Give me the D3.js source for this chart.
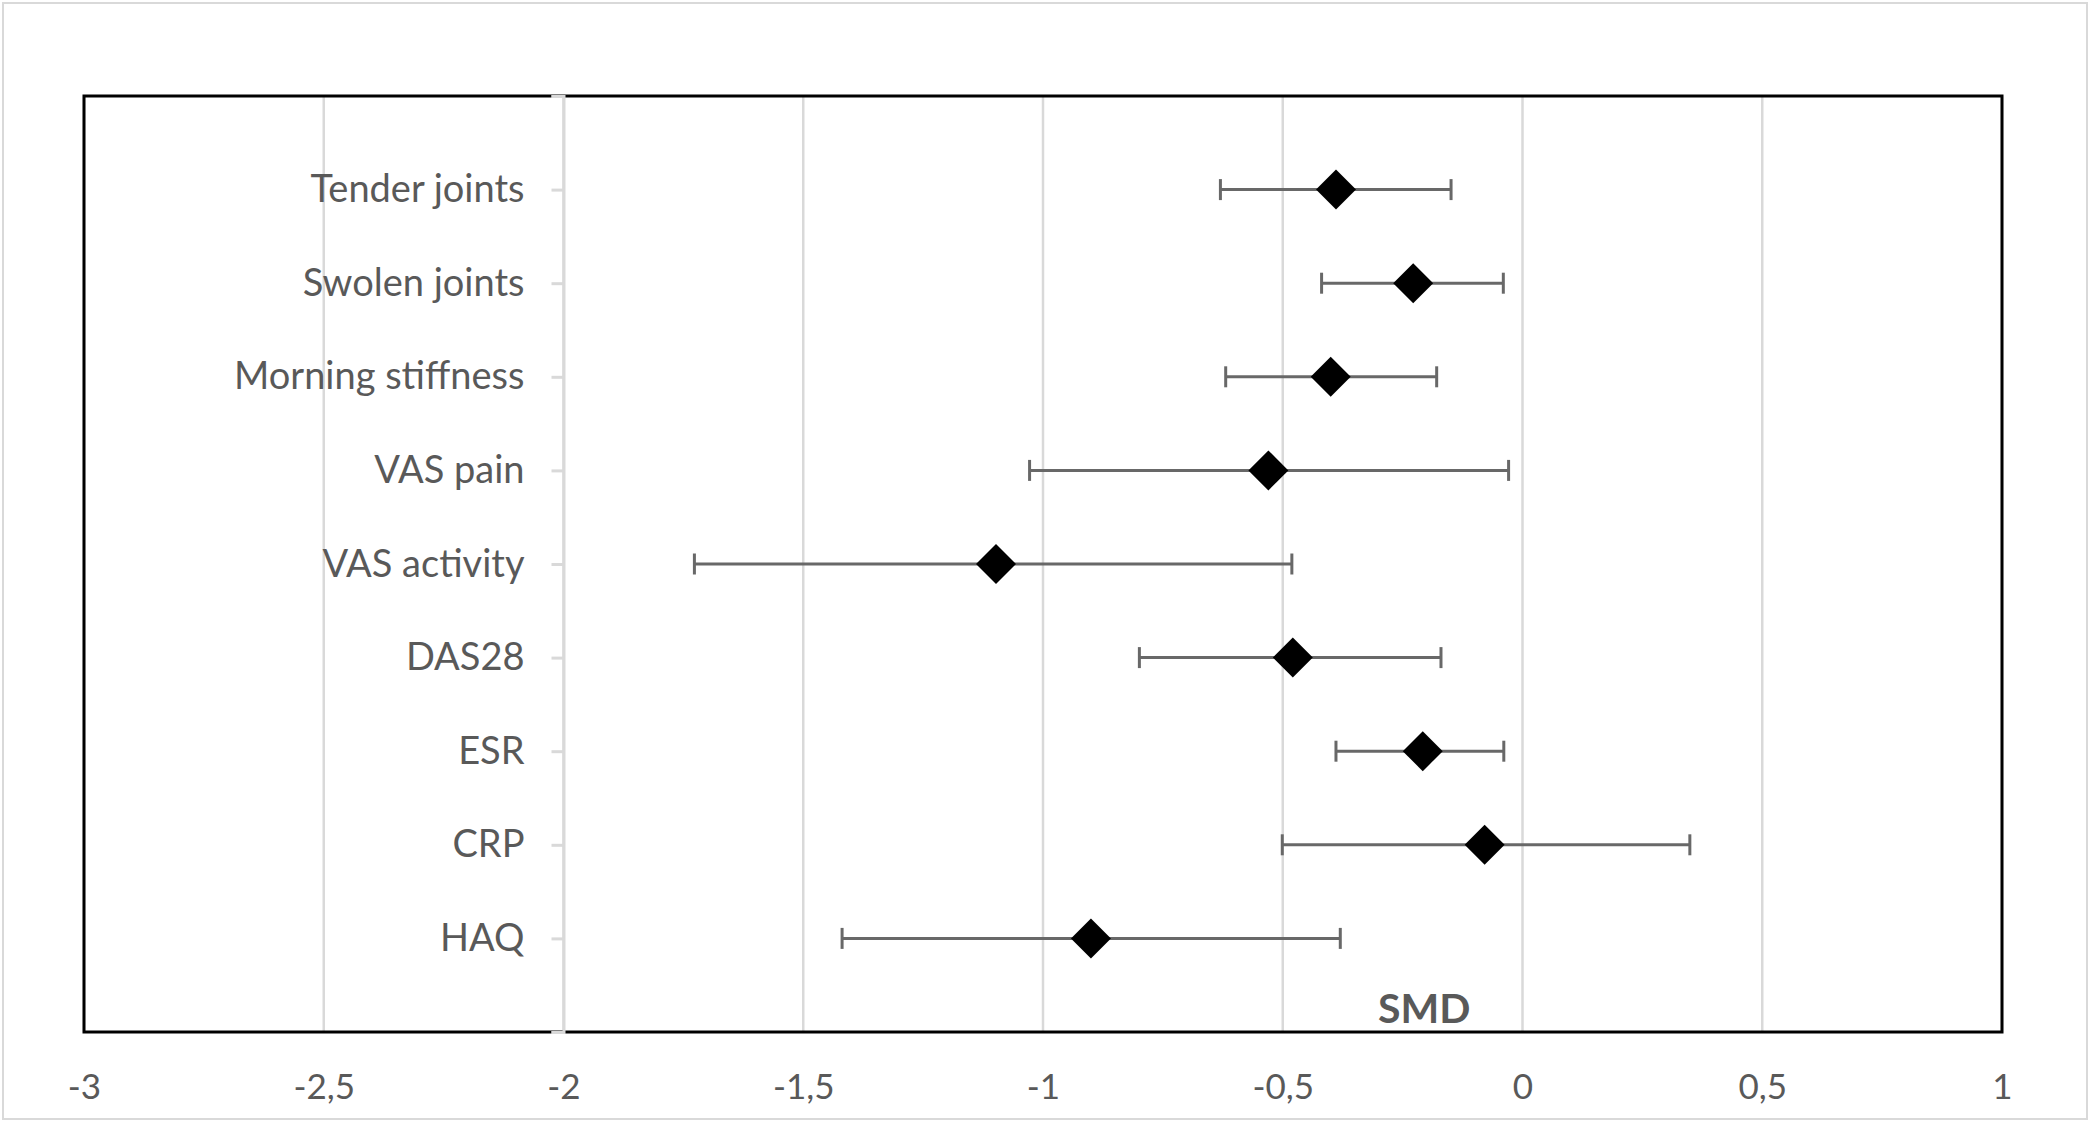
<!DOCTYPE html>
<html>
<head>
<meta charset="utf-8">
<script src="https://cdn.jsdelivr.net/npm/d3@7"></script>
<style>
  html, body { margin: 0; padding: 0; background: #fff; }
  svg { display: block; }
</style>
</head>
<body>
<svg id="chart" width="2090" height="1122"></svg>
<script>
const categories = ["Tender joints","Swolen joints","Morning stiffness","VAS pain","VAS activity","DAS28","ESR","CRP","HAQ"];
const smd   = [-0.389, -0.228, -0.400, -0.530, -1.098, -0.479, -0.208, -0.079, -0.900];
const lower = [-0.630, -0.419, -0.619, -1.028, -1.727, -0.799, -0.389, -0.501, -1.419];
const upper = [-0.149, -0.040, -0.179, -0.029, -0.481, -0.170, -0.039,  0.349, -0.380];
const xTicks = [-3, -2.5, -2, -1.5, -1, -0.5, 0, 0.5, 1];
const xTickLabels = ["-3","-2,5","-2","-1,5","-1","-0,5","0","0,5","1"];
const xTitle = "SMD";

const W = 2090, H = 1122;
const box = {left: 84, right: 2002, top: 96, bottom: 1032};
const font = "Lato, 'Open Sans', sans-serif";
const textColor = "#595959";

const svg = d3.select("#chart");
svg.append("rect").attr("width", W).attr("height", H).attr("fill", "#fff");
svg.append("rect").attr("x", 3).attr("y", 3).attr("width", W - 6).attr("height", H - 6)
  .attr("fill", "none").attr("stroke", "#d9d9d9").attr("stroke-width", 2);

const x = d3.scaleLinear().domain([-3, 1]).range([box.left, box.right]);
const y = d3.scaleLinear().domain([0, 10]).range([box.bottom, box.top]);
const data = categories.map((c, i) => ({cat: c, pos: 9 - i, v: smd[i], lo: lower[i], hi: upper[i]}));

// gridlines
svg.append("g").selectAll("line").data(xTicks).join("line")
  .attr("x1", d => x(d)).attr("x2", d => x(d))
  .attr("y1", box.top).attr("y2", box.bottom)
  .attr("stroke", "#d9d9d9").attr("stroke-width", 2.5);

// plot border
svg.append("rect").attr("x", box.left).attr("y", box.top)
  .attr("width", box.right - box.left).attr("height", box.bottom - box.top)
  .attr("fill", "none").attr("stroke", "#000").attr("stroke-width", 3);

// y axis at x = -2
const yAxis = d3.axisLeft(y)
  .tickValues(d3.range(0, 11))
  .tickFormat(d => (d >= 1 && d <= 9) ? categories[9 - d] : "")
  .tickSize(12).tickPadding(27);
const ya = svg.append("g").attr("transform", `translate(${x(-2)},0)`).call(yAxis);
ya.select(".domain").attr("stroke", "#d9d9d9").attr("stroke-width", 3);
ya.selectAll(".tick line").attr("stroke", "#d9d9d9").attr("stroke-width", 3);
ya.selectAll(".tick text").attr("fill", textColor).style("font-family", font).style("font-size", "38px");

// x axis labels
const xAxis = d3.axisBottom(x).tickValues(xTicks)
  .tickFormat((d, i) => xTickLabels[i]).tickSize(0);
const xa = svg.append("g").attr("transform", `translate(0,${box.bottom})`).call(xAxis);
xa.select(".domain").remove();
xa.selectAll(".tick text").attr("dy", null).attr("y", 67)
  .attr("fill", textColor).style("font-family", font).style("font-size", "35px");

// axis title
svg.append("text").attr("x", x(-0.205)).attr("y", 1023)
  .attr("text-anchor", "middle").attr("fill", textColor)
  .style("font-family", font).style("font-size", "41px").style("font-weight", "bold")
  .text(xTitle);

// error bars
const eb = svg.append("g").attr("stroke", "#686868").attr("stroke-width", 3);
eb.selectAll("line.bar").data(data).join("line").attr("class", "bar")
  .attr("x1", d => x(d.lo)).attr("x2", d => x(d.hi))
  .attr("y1", d => y(d.pos)).attr("y2", d => y(d.pos));
eb.selectAll("line.capl").data(data).join("line").attr("class", "capl")
  .attr("x1", d => x(d.lo)).attr("x2", d => x(d.lo))
  .attr("y1", d => y(d.pos) - 10.5).attr("y2", d => y(d.pos) + 10.5);
eb.selectAll("line.caph").data(data).join("line").attr("class", "caph")
  .attr("x1", d => x(d.hi)).attr("x2", d => x(d.hi))
  .attr("y1", d => y(d.pos) - 10.5).attr("y2", d => y(d.pos) + 10.5);

// diamonds
const r = 20;
svg.append("g").selectAll("path").data(data).join("path")
  .attr("d", d => {
    const cx = x(d.v), cy = y(d.pos);
    return `M${cx},${cy - r}L${cx + r},${cy}L${cx},${cy + r}L${cx - r},${cy}Z`;
  })
  .attr("fill", "#000");
</script>
</body>
</html>
